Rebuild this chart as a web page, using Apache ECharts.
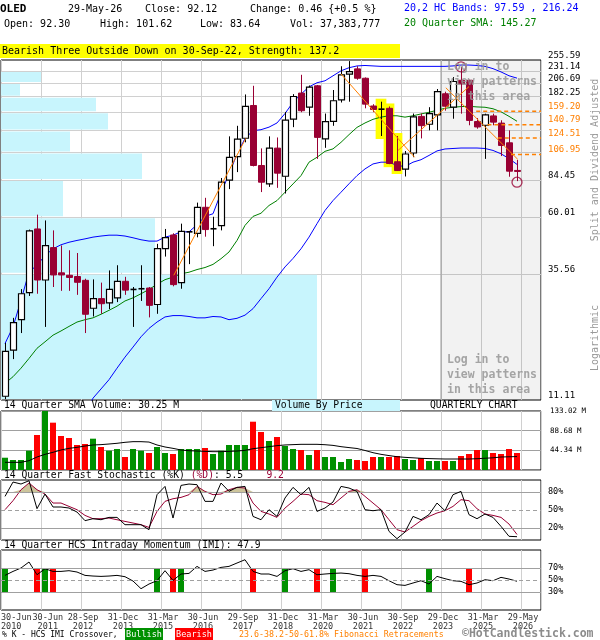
<!DOCTYPE html>
<html><head><meta charset="utf-8">
<script src="https://cdn.jsdelivr.net/npm/echarts@6/dist/echarts.min.js"></script>
<style>html,body{margin:0;padding:0;background:#fff}#c{width:600px;height:640px}</style>
</head><body><div id="c"></div>
<script>
// ---------------- DATA (quarterly, 2010-Q2 .. 2026-Q2) ----------------
const xTickLabels = [['30-Jun','2010'],['30-Jun','2011'],['28-Sep','2012'],['31-Dec','2013'],['31-Mar','2015'],['30-Jun','2016'],['29-Sep','2017'],['31-Dec','2018'],['31-Mar','2020'],['30-Jun','2021'],['30-Sep','2022'],['29-Dec','2023'],['31-Mar','2025'],['29-May','2026']];
const open  = [11.5,17.6,23.3,29.9,53.8,33.6,45.3,35.9,35.1,34.7, 33.5,25.9,28.3,27.2,28.5,33.2,30.8,31.0,31.2,26.8, 44.9,50.9,32.8,52.4,51.7,65.7,53.9,55.5,84.4,104.9, 124.2,168.0,96.6,81.6,113.4,87.5,148.1,188.4,165.4,201.5, 123.4,145.1,176.8,224.5,235.5,216.0,167.2,162.4,163.7,100.0, 93.5,108.4,152.0,141.3,154.1,187.2,165.4,212.0,212.0,144.9, 140.0,152.6,142.8,119.1,92.30];
const high  = [18.8,23.7,30.9,53.5,61.4,58.2,53.1,46.2,44.2,43.1, 34.0,33.8,32.8,36.7,38.5,34.6,31.5,38.5,31.5,46.9, 53.8,51.7,56.5,52.8,68.6,71.7,60.2,86.1,126.4,139.3, 186.0,201.5,113.1,126.4,125.1,158.3,186.6,223.0,202.1,203.0, 156.0,193.8,241.3,253.0,241.3,217.6,170.0,174.0,166.5,126.8, 110.4,156.0,156.0,165.4,195.6,190.8,218.3,240.0,213.0,149.7, 155.8,155.8,146.6,133.6,101.62];
const low   = [11.2,16.2,20.6,29.0,29.6,21.8,31.5,30.4,30.4,29.3, 20.6,24.0,24.6,25.7,27.4,29.3,21.8,27.7,23.8,24.6, 41.7,31.7,31.0,38.9,49.8,50.1,45.9,53.1,77.7,90.9, 119.6,95.8,75.6,79.3,78.6,74.6,137.6,157.9,152.8,102.7, 113.7,139.3,172.7,174.0,213.0,163.7,158.0,126.8,97.8,91.8, 87.3,104.3,124.0,133.6,133.6,160.2,148.7,155.8,140.0,135.6, 102.7,140.0,105.4,87.1,83.64];
const close = [17.4,22.7,29.6,52.9,33.6,46.1,35.2,35.2,34.4,32.9, 24.5,28.3,27.0,30.8,33.2,30.6,30.8,31.0,26.6,44.9, 49.7,32.2,52.6,52.4,65.7,53.5,53.9,82.8,104.1,123.2, 166.5,96.6,82.8,113.4,90.0,146.9,182.5,160.1,199.0,125.2, 144.7,175.5,223.0,229.6,216.0,170.1,161.9,162.4,98.4,92.2, 107.4,151.3,139.5,155.8,190.8,166.9,209.6,205.0,146.4,137.8, 154.1,144.1,116.2,91.66,92.12];
const bandUpper = [18.7,21.8,27.9,36.2,38.5,42.1,44.8,46.5,47.6,48.4, 49.1,49.9,50.4,50.8,50.8,50.4,49.6,48.7,48.1,48.1, 49.9,50.8,52.4,52.4,55.9,60.4,61.9,75.1,89.3,107.2, 124,133.2,134.4,137.6,143,156,173,186.6,199.5,207.2, 211,220.9,231.3,238,242,243,242,241,241,241, 241,241,241,241,241,241,242,244,244,243, 241,236,229,221,216.24];
const bandLower = [null,null,null,null,null,null,null,null,null,8.5, 9.8,11.3,12.3,13.4,14.9,16.5,18.1,19.9,21.5,22.8, 23.9,24.2,24.2,24.0,23.7,23.7,24.0,23.9,23.3,23.6, 24.3,25.8,28.3,31.0,34.5,37.9,41.0,44.8,49.9,56.5, 63.8,69.9,75.5,81.6,88.0,93.6,98.0,99.6,99.6,96.6, 95.7,99.6,101.9,106,110.5,112.5,113,113.5,113.5,113.5, 113,111,107.6,103,97.59];
const sma20 = [12.95,13.77,14.9,16.3,17.9,19.0,20.2,21.0,21.9,22.8, 23.3,23.7,24.5,25.4,26.4,27.7,28.5,29.6,30.8,32.3, 33.7,34.5,35.6,36.1,37.0,37.7,38.8,40.9,43.5,48.4, 55.6,60.4,62.2,66.8,69.9,75.5,81.5,88.0,99.6,104.2, 110.1,112.6,119.6,128.4,137.3,143.0,147.9,150.9,152.8,152.8, 150.9,152.8,155.4,157.8,160.8,163.7,165.3,166.3,166.8,165.8, 165.3,163,158.5,152,145.27];
const volume = [27.7,22.5,22.5,43.5,78.9,133.0,106.7,76.7,72.1,56.4, 58.6,70.6,51.9,43.5,47.3,29.3,47.3,43.5,38.3,51.9, 38.3,36.1,47.3,47.3,47.3,49.6,36.1,43.5,56.4,56.4, 56.4,108.9,85.7,65.4,74.4,54.1,47.3,45.1,33.8,45.1, 29.3,29.3,18.0,24.8,22.5,20.3,29.3,29.3,29.3,31.6, 24.8,22.5,27.1,20.3,20.3,20.3,20.3,31.6,36.1,45.1, 45.1,38.3,36.1,47.3,38.3];
const volumeSma = [17.3,17.3,17.3,21,29.3,35.3,39.9,45.1,48.8,51.1, 54.1,56.4,57.2,58.6,60.2,62.4,63.9,63.9,63,56.4, 51.9,48.8,45.1,43.5,42.8,42,41.3,41.3,42,42.8, 44.3,48,50.3,52.6,54.9,56.4,57.2,57.9,57.9,57.9, 57,55.5,52.6,50.5,48.5,44,39,35.3,32.5,30, 28.5,27.5,26.3,25.7,25.2,24.8,24.8,24.8,24.8,25.5, 26.5,27.5,29.3,29.8,30.25];
const stochK = [72.7,96.6,93.3,98.8,52.2,76.6,55,55,53.3,46.6, 32.2,35.5,33.8,37.7,37.7,25.5,25.5,25.5,17.2,75.5, 89.3,36.6,91,93.3,92.2,64.4,64.4,95,81.1,87.7, 89.3,39.3,33.8,50.5,39.3,70,87.7,75.5,87.7,47.7, 53.3,63.3,89.3,86.6,81,50.5,48.8,50.5,14.4,2.2, 13.3,39.3,33.8,42.2,61.6,48.8,75.5,81,42.2,35.5, 43.3,37.7,22.7,6.1,5.5];
const stochD = [50.5,65.5,83.8,95,83.8,76.6,61.6,61.6,56,50.5, 41,35.5,35.5,36.6,33.8,31,28.3,25.5,21,47.7, 64.4,68.8,71,75.5,89.3,81,75.5,76.6,83.8,87.7, 86.6,61.6,47.7,43.3,37.7,53.3,64.4,76.6,75.5,65.5, 62.7,58.8,70,81,83.8,72.7,61.6,50.5,33.8,17.2, 13.3,22.7,32.2,39.3,45,48.8,56,67.2,65.5,52.2, 43.3,41,37.7,26.6,9.2];
const imi = [57.7,64.3,70,80,58.8,68.8,64.3,64.3,65.5,63.3, 57.7,56.6,56,56.6,57.7,55.5,48.3,35.5,43.3,48.8, 65.5,49.3,60,61,72.7,64.3,66.6,71,72.7,78.3, 83.8,64.3,60,60,56,65.5,68.8,64.3,67.2,58.8, 60,61,61.6,60.5,57.7,56,57.7,56,48.8,42.2, 41,45,48.8,43.3,56,52.2,48.8,47.7,42.2,45, 50.5,48.8,54.4,51.6,47.9];
const imiBullish = [0,5,19,22,35,41,53];
const imiBearish = [4,6,21,31,39,45,58];
const priceGrid = [11.11,35.555,60.0,84.445,108.89,133.335,157.78,182.225,206.67,231.115,255.56];
const priceLabels = [11.111,35.56,60.01,84.45,106.95,124.51,140.79,159.20,182.25,206.69,231.14,255.589];
const fibLevels = [159.20,140.79,124.51,106.95];
const fibStart = [58.9,60.3,61.6,63.25];
const fibTrends = [[[21.1,35.1],[30.1,124]],[[42,224.7],[51.2,104.2]],[[49.1,110.8],[58,200]],[[55.1,197.9],[64.1,102.2]]];
const vbpVolume = [316,154,62,141,69,107,95,19,40,0];
const patternIdx = [47,48,49];
const patternCircles = [[57,240],[64,82.8]];
const hiddenFrom = 54.5;

// ---------------- CHART ----------------
const MONO = "'DejaVu Sans Mono', monospace";
const MAROON = '#990033';
const xMin = -0.5, xMax = 67, xStep = 5;
// label anchor positions (tick k), the 2nd one nudged right to clear the left-aligned first label
const labelPos = xTickLabels.map((_, k) => xMin + k*xStep + (k === 1 ? 0.85 : 0.25));
const chart = echarts.init(document.getElementById('c'), null, {renderer:'canvas', width:600, height:640});

function grid(top, height){ return {left:1, top, width:540, height, show:true, borderColor:'#000', borderWidth:1, backgroundColor:'#fff', containLabel:false, outerBoundsMode:'none'}; }
function xAx(g, labels){
  return {type:'value', gridIndex:g, min:xMin, max:xMax, interval:xStep,
    axisLine:{show:false}, axisTick:{show:false},
    splitLine:{show:true, lineStyle:{color:'#d0d0d0', width:1}},
    axisLabel: labels ? {
      show:true, customValues: labelPos.map((p,k)=> k===0 ? xMin : p),
      showMinLabel:true, showMaxLabel:true, fontFamily:MONO, fontSize:8.5, color:'#333', lineHeight:9, margin:3,
      alignMinLabel:'left', hideOverlap:false,
      formatter:(v)=>{
        let k = 0, best = 1e9;
        labelPos.forEach((p,j)=>{ const pp = j===0 ? xMin : p; const d = Math.abs(pp - v); if (d < best){best = d; k = j;} });
        if (best > 0.01) return '';
        return xTickLabels[k][0] + '\n' + xTickLabels[k][1];
      }} : {show:false}
  };
}
const isFib = v => fibLevels.some(f => Math.abs(f - Number(v)) < 0.02);

const series = [];
// volume by price
series.push({type:'custom', xAxisIndex:1, yAxisIndex:0, z:1, silent:true,
  data: vbpVolume.map((v,k)=>[v, priceGrid[k], priceGrid[k+1]]), encode:{x:0, y:[1,2]},
  renderItem:(p,api)=>{ const a = api.coord([0, api.value(2)]), b = api.coord([api.value(0), api.value(1)]);
    return {type:'rect', shape:{x:a[0], y:a[1]+1, width:b[0]-a[0], height:b[1]-a[1]-2}, style:{fill:'#c8f5fd'}}; }});
// hidden-pattern zone
series.push({type:'line', xAxisIndex:0, yAxisIndex:0, z:2, silent:true, symbol:'none',
  data:[[hiddenFrom, 11.12],[hiddenFrom, 255.5]], lineStyle:{color:'#999', width:1},
  markArea:{silent:true, itemStyle:{color:'rgba(0,0,0,0.05)'}, data:[[{xAxis:hiddenFrom},{xAxis:xMax}]]}});
// pattern highlight
series.push({type:'custom', xAxisIndex:0, yAxisIndex:0, z:3, silent:true,
  data: patternIdx.map(i=>[i, high[i], low[i]]), encode:{x:0, y:[1,2]},
  renderItem:(p,api)=>{ const i = api.value(0); const a = api.coord([i-0.67, api.value(1)]), b = api.coord([i+0.67, api.value(2)]);
    return {type:'rect', shape:{x:a[0], y:a[1]-3, width:b[0]-a[0], height:b[1]-a[1]+6}, style:{fill:'#ffff00'}}; }});
// bands and SMA
const lineS = (data, color, xi, yi, z, w) => ({type:'line', xAxisIndex:xi, yAxisIndex:yi, z, silent:true, symbol:'none', showSymbol:false,
  data, lineStyle:{color, width:w||1}, emphasis:{disabled:true}});
series.push(lineS(bandUpper.map((v,i)=>[i,v]), '#0000ff', 0, 0, 4));
series.push(lineS(bandLower.map((v,i)=>[i,v]).filter(d=>d[1]!=null), '#0000ff', 0, 0, 4));
series.push(lineS(sma20.map((v,i)=>[i,v]), '#008000', 0, 0, 4));
// candles
series.push({type:'custom', xAxisIndex:0, yAxisIndex:0, z:5, silent:true,
  data: open.map((o,i)=>[i, o, high[i], low[i], close[i]]), encode:{x:0, y:[1,2,3,4]},
  renderItem:(p,api)=>{
    const i = api.value(0), o = api.value(1), h = api.value(2), l = api.value(3), c = api.value(4);
    const pO = api.coord([i,o]), pC = api.coord([i,c]), pH = api.coord([i,h]), pL = api.coord([i,l]);
    const x = Math.round(pO[0]) + 0.5;
    const doji = c === o, up = c > o;
    const col = (doji || up) ? '#000' : MAROON;
    const top = Math.min(pO[1], pC[1]), bot = Math.max(pO[1], pC[1]);
    const ch = [{type:'line', shape:{x1:x, y1:pH[1], x2:x, y2:pL[1]}, style:{stroke:col, lineWidth:1}}];
    if (doji) ch.push({type:'line', shape:{x1:x-3, y1:top, x2:x+3, y2:top}, style:{stroke:'#000', lineWidth:1.6}});
    else if (up) ch.push({type:'rect', shape:{x:x-3, y:top, width:6, height:bot-top}, style:{fill:'#fff', stroke:'#000', lineWidth:1.2}});
    else ch.push({type:'rect', shape:{x:x-3, y:top, width:6, height:Math.max(bot-top,1)}, style:{fill:MAROON, stroke:MAROON, lineWidth:1}});
    return {type:'group', children:ch};
  }});
// fib trendlines
fibTrends.forEach(t => series.push(lineS(t, '#ff8000', 0, 0, 6)));
// fib levels
fibLevels.forEach((f,k) => series.push({type:'line', xAxisIndex:0, yAxisIndex:0, z:6, silent:true, symbol:'none',
  data:[[fibStart[k], f],[xMax, f]], lineStyle:{color:'#ff8000', width:1.5, type:[4,3]}}));
// pattern circles
series.push({type:'scatter', xAxisIndex:0, yAxisIndex:0, z:7, silent:true, symbol:'circle', symbolSize:10,
  data: patternCircles, itemStyle:{color:'rgba(0,0,0,0)', borderColor:MAROON, borderWidth:1.3}});

// volume
series.push({type:'custom', xAxisIndex:2, yAxisIndex:1, z:3, silent:true,
  data: volume.map((v,i)=>[i, v, close[i] >= open[i] ? 1 : 0]), encode:{x:0, y:1},
  renderItem:(p,api)=>{ const i = api.value(0); const a = api.coord([i-0.375, api.value(1)]), b = api.coord([i+0.375, 0]);
    return {type:'rect', shape:{x:Math.round(a[0]), y:a[1], width:6, height:b[1]-a[1]}, style:{fill: api.value(2) ? '#009000' : '#ff0000'}}; }});
series.push(lineS(volumeSma.map((v,i)=>[i,v]), '#000', 2, 1, 4));

// stochastic
series.push({type:'line', xAxisIndex:3, yAxisIndex:2, z:2, silent:true, symbol:'none',
  data: stochD.map((v,i)=>[i, Math.max(v, 80)]), lineStyle:{width:0},
  areaStyle:{origin:80, color:'#cdc59c', opacity:1},
  markLine:{silent:true, symbol:'none', label:{show:false}, animation:false,
    data:[{yAxis:80, lineStyle:{color:'#a0a0a0', type:'solid', width:1.2}},
          {yAxis:20, lineStyle:{color:'#a0a0a0', type:'solid', width:1.2}},
          {yAxis:50, lineStyle:{color:'#a0a0a0', type:[4,3], width:1}}]}});
series.push(lineS(stochD.map((v,i)=>[i,v]), MAROON, 3, 2, 4));
series.push(lineS(stochK.map((v,i)=>[i,v]), '#000', 3, 2, 5));

// IMI
series.push({type:'custom', xAxisIndex:4, yAxisIndex:3, z:2, silent:true,
  data: imiBullish.map(i=>[i,1]).concat(imiBearish.map(i=>[i,0])), encode:{x:0},
  renderItem:(p,api)=>{ const i = api.value(0); const a = api.coord([i-0.375, 70]), b = api.coord([i+0.375, 30]);
    return {type:'rect', shape:{x:Math.round(a[0]), y:a[1], width:6, height:b[1]-a[1]}, style:{fill: api.value(1) ? '#009000' : '#ff0000'}}; }});
series.push({type:'line', xAxisIndex:4, yAxisIndex:3, z:3, silent:true, symbol:'none',
  data: imi.map((v,i)=>[i,v]), lineStyle:{color:'#000', width:1},
  markLine:{silent:true, symbol:'none', label:{show:false}, animation:false,
    data:[{yAxis:70, lineStyle:{color:'#a0a0a0', type:'solid', width:1.2}},
          {yAxis:30, lineStyle:{color:'#a0a0a0', type:'solid', width:1.2}},
          {yAxis:50, lineStyle:{color:'#a0a0a0', type:[4,3], width:1}}]}});

const pctAxis = (g, shown) => ({type:'value', gridIndex:g, min:0, max:100, interval:10, position:'right',
  axisLine:{show:false}, axisTick:{show:false}, splitLine:{show:false},
  axisLabel:{fontFamily:MONO, fontSize:8.5, color:'#000', margin:7, formatter:v=> shown.includes(v) ? v+'%' : ''}});

// ---------------- TEXT ----------------
const T = (x, y, text, o) => Object.assign({type:'text', x, y, z:100, silent:true,
  style:Object.assign({text, fill:'#000', font:'10px '+MONO, verticalAlign:'middle'}, (o||{}).style||{})}, o&&o.extra||{});
const LOGIN = {font:'bold 11.5px '+MONO, fill:'rgba(150,150,150,0.85)', lineHeight:15, verticalAlign:'top'};
const graphics = [
  T(0, 9, 'OLED', {style:{font:'bold 11px '+MONO}}),
  T(68, 9, '29-May-26'), T(145, 9, 'Close: 92.12'), T(250, 9, 'Change: 0.46 {+0.5 %}'),
  T(4, 24, 'Open: 92.30'), T(100, 24, 'High: 101.62'), T(200, 24, 'Low: 83.64'), T(290, 24, 'Vol: 37,383,777'),
  T(404, 8, '20,2 HC Bands: 97.59 , 216.24', {style:{fill:'#0000ff'}}),
  T(404, 23, '20 Quarter SMA: 145.27', {style:{fill:'#008000'}}),
  {type:'rect', shape:{x:0, y:44, width:400, height:14}, style:{fill:'#ffff00'}, z:99, silent:true},
  T(2, 51, 'Bearish Three Outside Down on 30-Sep-22, Strength: 137.2'),
  {type:'rect', shape:{x:272, y:400, width:128, height:11}, style:{fill:'#c8f5fd'}, z:99, silent:true},
  T(4, 405.5, '14 Quarter SMA Volume: 30.25 M', {style:{font:'9.7px '+MONO}}),
  T(275, 405.5, 'Volume By Price', {style:{font:'9.7px '+MONO}}),
  T(430, 405.5, 'QUARTERLY CHART', {style:{font:'9.7px '+MONO}}),
  T(4, 475, '14 Quarter Fast Stochastic (%K) {d|(%D)}: 5.5    {d|9.2}', {style:{font:'9.7px '+MONO, rich:{d:{fill:MAROON, font:'9.7px '+MONO}}}}),
  T(4, 545, '14 Quarter HCS Intraday Momentum (IMI): 47.9', {style:{font:'9.7px '+MONO}}),
  T(595, 160, 'Split and Dividend Adjusted', {style:{fill:'#999', align:'center'}, extra:{rotation:Math.PI/2}}),
  T(595, 338, 'Logarithmic', {style:{fill:'#999', align:'center'}, extra:{rotation:Math.PI/2}}),
  T(447, 60, 'Log in to\nview patterns\nin this area', {style:LOGIN}),
  T(447, 353, 'Log in to\nview patterns\nin this area', {style:LOGIN}),
  T(2, 635, '% K - HCS IMI Crossover,', {style:{font:'8px '+MONO}}),
  {type:'rect', shape:{x:125, y:628, width:38, height:12}, style:{fill:'#009000'}, z:99, silent:true},
  T(144, 634.5, 'Bullish', {style:{font:'8.5px '+MONO, fill:'#fff', align:'center'}}),
  {type:'rect', shape:{x:175, y:628, width:38, height:12}, style:{fill:'#ff0000'}, z:99, silent:true},
  T(194, 634.5, 'Bearish', {style:{font:'8.5px '+MONO, fill:'#fff', align:'center'}}),
  T(239, 635, '23.6-38.2-50-61.8% Fibonacci Retracements', {style:{font:'8.3px '+MONO, fill:'#ff8000'}}),
  T(462, 634, '\u00A9HotCandlestick.com', {style:{font:'bold 11.5px '+MONO, fill:'#8c8c8c'}})
];

chart.setOption({
  animation:false,
  backgroundColor:'#fff',
  textStyle:{fontFamily:MONO},
  grid:[grid(60,340), grid(411,59), grid(480,60), grid(550,60)],
  xAxis:[xAx(0,false),
    {type:'value', gridIndex:0, min:0, max:540, show:false, splitLine:{show:false}},
    xAx(1,false), xAx(2,false), xAx(3,true)],
  yAxis:[
    {type:'log', logBase:10, gridIndex:0, min:11.11, max:255.59, position:'right',
      axisLine:{show:false}, axisTick:{show:false, customValues:priceGrid.slice(1,-1)},
      splitLine:{show:true, lineStyle:{color:'#d0d0d0', width:1}},
      axisLabel:{customValues:priceLabels, fontFamily:MONO, fontSize:9, margin:7, verticalAlign:'bottom',
        formatter:v=>Number(v).toFixed(2), color:v=> isFib(v) ? '#ff7f00' : '#000'}},
    {type:'value', gridIndex:1, min:0, max:133.02, interval:44.34, position:'right',
      axisLine:{show:false}, axisTick:{show:false}, splitLine:{show:true, lineStyle:{color:'#a0a0a0', width:1}},
      axisLabel:{fontFamily:MONO, fontSize:7.5, color:'#000', margin:9, formatter:v=> v>0 ? v.toFixed(2)+' M' : ''}},
    pctAxis(2,[20,50,80]), pctAxis(3,[30,50,70])
  ],
  series,
  graphic:{elements:graphics}
});
</script>
</body></html>
